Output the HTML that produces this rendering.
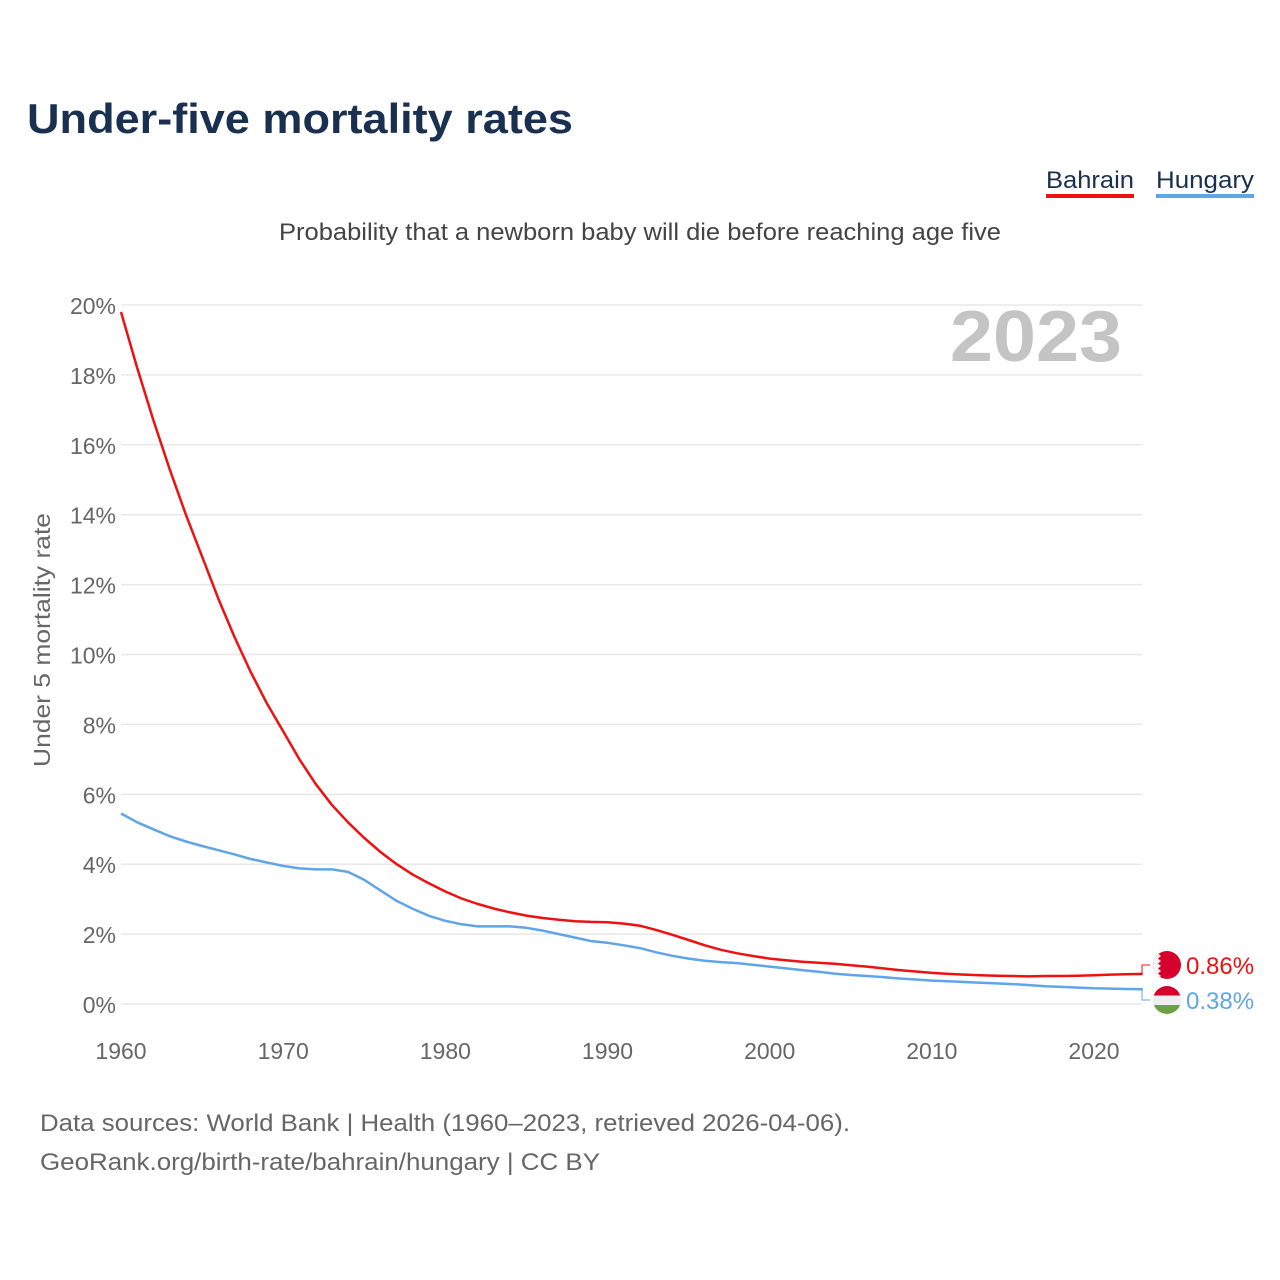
<!DOCTYPE html>
<html><head><meta charset="utf-8"><style>
body{margin:0;background:#fff;font-family:"Liberation Sans",sans-serif}
svg{display:block}
</style></head><body>
<svg id="chart" width="1280" height="1280" xmlns="http://www.w3.org/2000/svg">
<defs><clipPath id="hc"><circle cx="1167" cy="1000" r="14"/></clipPath><clipPath id="bc"><circle cx="1167" cy="965" r="14"/></clipPath></defs>
<text x="27" y="133" font-size="42" font-weight="bold" fill="#1a3050" textLength="546" lengthAdjust="spacingAndGlyphs">Under-five mortality rates</text>
<g>
<g><text x="1046" y="188" font-size="24" fill="#1a3050" textLength="88" lengthAdjust="spacingAndGlyphs">Bahrain</text><rect x="1046" y="194" width="88" height="4" fill="#ee1111"/></g>
<g><text x="1156" y="188" font-size="24" fill="#1a3050" textLength="98" lengthAdjust="spacingAndGlyphs">Hungary</text><rect x="1156" y="194" width="98" height="4" fill="#60a5e8"/></g>
</g>
<text x="640" y="240" font-size="24" fill="#444" text-anchor="middle" textLength="722" lengthAdjust="spacingAndGlyphs">Probability that a newborn baby will die before reaching age five</text>
<text x="1122" y="361" font-size="72" font-weight="bold" fill="#c4c4c4" text-anchor="end" textLength="172" lengthAdjust="spacingAndGlyphs">2023</text>
<text transform="translate(50,640) rotate(-90)" font-size="23" fill="#666" text-anchor="middle" textLength="254" lengthAdjust="spacingAndGlyphs">Under 5 mortality rate</text>
<g id="grid"></g><g id="series"></g><g id="labels"></g>
<text x="40" y="1131" font-size="24" fill="#666" textLength="810" lengthAdjust="spacingAndGlyphs">Data sources: World Bank | Health (1960–2023, retrieved 2026-04-06).</text>
<text x="40" y="1170" font-size="24" fill="#666" textLength="560" lengthAdjust="spacingAndGlyphs">GeoRank.org/birth-rate/bahrain/hungary | CC BY</text>
</svg>
<script>
const years=[];for(let y=1960;y<=2023;y++)years.push(y);
const bahrain=[19.8,18.2,16.7,15.3,14.0,12.8,11.6,10.5,9.5,8.6,7.8,7.0,6.3,5.7,5.2,4.75,4.35,4.0,3.7,3.45,3.22,3.02,2.86,2.73,2.62,2.53,2.46,2.41,2.37,2.35,2.34,2.3,2.24,2.12,1.98,1.83,1.68,1.55,1.45,1.37,1.3,1.25,1.21,1.18,1.15,1.11,1.07,1.02,0.97,0.93,0.89,0.86,0.84,0.82,0.81,0.8,0.79,0.8,0.8,0.81,0.82,0.84,0.85,0.86];
const hungary=[5.45,5.2,5.0,4.8,4.65,4.52,4.4,4.28,4.15,4.05,3.95,3.88,3.85,3.85,3.78,3.55,3.25,2.95,2.72,2.52,2.38,2.28,2.22,2.22,2.22,2.18,2.1,2.0,1.9,1.8,1.75,1.68,1.6,1.48,1.38,1.3,1.24,1.2,1.17,1.12,1.07,1.02,0.97,0.92,0.87,0.83,0.8,0.77,0.73,0.7,0.67,0.65,0.63,0.61,0.59,0.57,0.54,0.51,0.49,0.47,0.45,0.44,0.43,0.42];
const hungaryLabel=0.38;
const yTicks=[0,2,4,6,8,10,12,14,16,18,20];
const xTicks=[1960,1970,1980,1990,2000,2010,2020];
const X=y=>121+(y-1960)*(1094-121)/60;
const Y=v=>1004-v*34.95;
const NS="http://www.w3.org/2000/svg";
function mk(tag,attrs,parent){const e=document.createElementNS(NS,tag);for(const k in attrs)e.setAttribute(k,attrs[k]);parent.appendChild(e);return e;}
const grid=document.getElementById('grid'),series=document.getElementById('series'),labels=document.getElementById('labels');
yTicks.forEach(t=>{
 const l=mk('line',{x1:121,x2:1142,y1:Y(t),y2:Y(t),stroke:'#e8e8e8','stroke-width':1.5},grid);
 
 
 const tx=mk('text',{x:116,y:Y(t)+9,'font-size':23,fill:'#666','text-anchor':'end'},grid);tx.textContent=t+'%';
 
 
});
xTicks.forEach(t=>{
 const tx=mk('text',{x:X(t),y:1059,'font-size':23,fill:'#666','text-anchor':'middle'},grid);tx.textContent=t;
 
 
});
function line(data,color,name){
 const d=data.map((v,i)=>(i?'L':'M')+X(years[i]).toFixed(1)+','+Y(v).toFixed(1)).join('');
 const p=mk('path',{d:d,fill:'none',stroke:color,'stroke-width':2.5,'stroke-linejoin':'round'},series);
 
 
}
line(hungary,'#60a5e8','hungary-line');
line(bahrain,'#ee1111','bahrain-line');
const last=years.length-1;
function endLabel(v,ly,color,txt,name,flag){
 const x0=X(years[last]);
 const c=mk('path',{d:`M${x0},${Y(v)}H1142V${ly}H1150`,fill:'none',stroke:color,'stroke-width':1},labels);
 
 
 const g=mk('g',{},labels);
 
 
 flag(g);
 const t=mk('text',{x:1186,y:ly+9,'font-size':24,fill:color},labels);t.textContent=txt;
 
 
}
endLabel(bahrain[last],965,'#ee1111',bahrain[last].toFixed(2)+'%','bahrain',g=>{
 const gg=mk('g',{'clip-path':'url(#bc)'},g);
 mk('rect',{x:1153,y:951,width:28,height:28,fill:'#d5002b'},gg);
 mk('path',{d:'M1153,951H1161l-3,2.5l3,2.5l-3,2.5l3,2.5l-3,2.5l3,2.5l-3,2.5l3,2.5l-3,2.5l3,2.5l-3,2.5H1153z',fill:'#f4f4f4'},gg);
});
endLabel(hungary[last],1000,'#60a5e8',hungaryLabel.toFixed(2)+'%','hungary',g=>{
 const gg=mk('g',{'clip-path':'url(#hc)'},g);
 mk('rect',{x:1153,y:986,width:28,height:10,fill:'#d5002b'},gg);
 mk('rect',{x:1153,y:995.5,width:28,height:9.5,fill:'#eeeeee'},gg);
 mk('rect',{x:1153,y:1005,width:28,height:10,fill:'#6aa143'},gg);
});
</script>
</body></html>
